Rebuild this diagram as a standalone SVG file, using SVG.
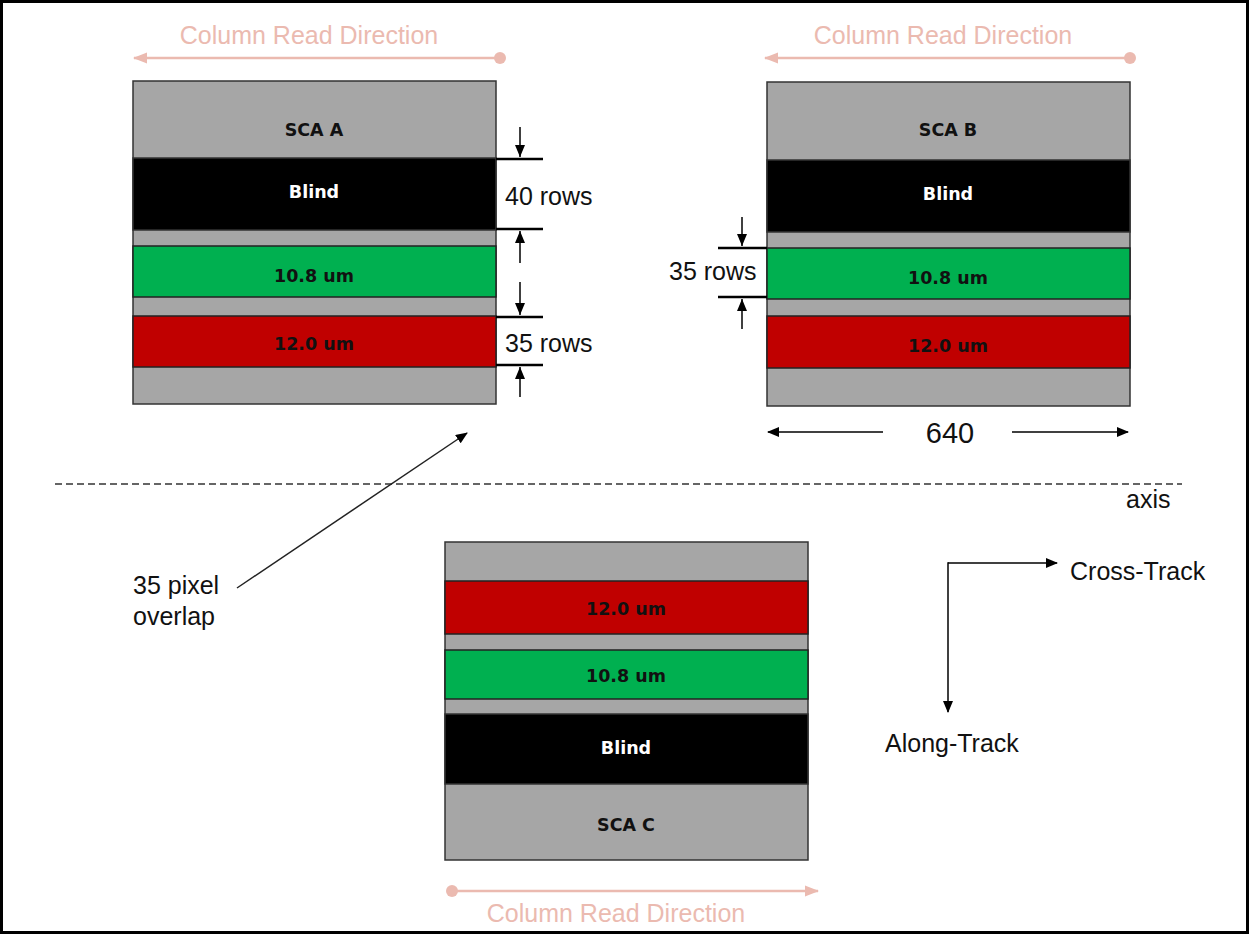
<svg xmlns="http://www.w3.org/2000/svg" width="1249" height="934" viewBox="0 0 1249 934">
<defs>
<marker id="ah" markerUnits="userSpaceOnUse" markerWidth="12" markerHeight="10" refX="11" refY="5" orient="auto"><path d="M0,0 L12,5 L0,10 z" fill="#000"/></marker>
<marker id="ahs" markerUnits="userSpaceOnUse" markerWidth="12" markerHeight="10" refX="12" refY="5" orient="auto"><path d="M0,0 L12,5 L0,10 z" fill="#000"/></marker>
<marker id="pah" markerUnits="userSpaceOnUse" markerWidth="14" markerHeight="12" refX="13" refY="6" orient="auto"><path d="M0,0.5 L14,6 L0,11.5 z" fill="#ebbab0"/></marker>
<marker id="pdot" markerUnits="userSpaceOnUse" markerWidth="14" markerHeight="14" refX="7" refY="7" orient="auto"><circle cx="7" cy="7" r="6" fill="#ebbab0"/></marker>
</defs>
<style>
.frame{fill:#fff;stroke:#000;stroke-width:3}
.gray{fill:#a6a6a6;stroke:#333;stroke-width:1.5}
.blind{fill:#000;stroke:#333;stroke-width:1.5}
.green{fill:#00b050;stroke:#222;stroke-width:1.5}
.red{fill:#c00000;stroke:#222;stroke-width:1.5}
.bl{font-family:"DejaVu Sans",Verdana,sans-serif;font-weight:bold;font-size:17.5px;text-anchor:middle;fill:#111}
.wl{font-family:"DejaVu Sans",Verdana,sans-serif;font-weight:bold;font-size:17.5px;text-anchor:middle;fill:#fff}
.lbl{font-family:"Liberation Sans",Arial,sans-serif;font-size:25px;fill:#111}
.big{font-family:"Liberation Sans",Arial,sans-serif;font-size:29px;fill:#111;text-anchor:middle}
.pink{font-family:"Liberation Sans",Arial,sans-serif;font-size:25px;fill:#ebbab0;text-anchor:middle}
.pl{stroke:#ebbab0;stroke-width:2.5;fill:none}
.dim{stroke:#000;stroke-width:2.5;fill:none}
.arr{stroke:#000;stroke-width:1.5;fill:none}
</style>
<rect class="frame" x="1.5" y="1.5" width="1246" height="931"/>

<g id="scaA">
<rect class="gray" x="133" y="81" width="363" height="323"/>
<rect class="blind" x="133" y="158" width="363" height="72"/>
<rect class="green" x="133" y="246" width="363" height="51"/>
<rect class="red" x="133" y="316" width="363" height="51"/>
<text class="bl" x="314" y="136">SCA A</text>
<text class="wl" x="314" y="198">Blind</text>
<text class="bl" x="314" y="282">10.8 um</text>
<text class="bl" x="314" y="350">12.0 um</text>
</g>

<g id="scaB">
<rect class="gray" x="767" y="82" width="363" height="324"/>
<rect class="blind" x="767" y="160" width="363" height="72"/>
<rect class="green" x="767" y="248" width="363" height="51"/>
<rect class="red" x="767" y="316" width="363" height="52"/>
<text class="bl" x="948" y="136">SCA B</text>
<text class="wl" x="948" y="200">Blind</text>
<text class="bl" x="948" y="284">10.8 um</text>
<text class="bl" x="948" y="352">12.0 um</text>
</g>

<g id="scaC">
<rect class="gray" x="445" y="542" width="363" height="318"/>
<rect class="red" x="445" y="581" width="363" height="53"/>
<rect class="green" x="445" y="650" width="363" height="49"/>
<rect class="blind" x="445" y="714" width="363" height="70"/>
<text class="bl" x="626" y="615">12.0 um</text>
<text class="bl" x="626" y="682">10.8 um</text>
<text class="wl" x="626" y="754">Blind</text>
<text class="bl" x="626" y="831">SCA C</text>
</g>

<g id="readDirections">
<line class="pl" x1="500" y1="58" x2="134" y2="58" marker-start="url(#pdot)" marker-end="url(#pah)"/>
<text class="pink" x="309" y="44">Column Read Direction</text>
<line class="pl" x1="1130" y1="58" x2="765" y2="58" marker-start="url(#pdot)" marker-end="url(#pah)"/>
<text class="pink" x="943" y="44">Column Read Direction</text>
<line class="pl" x1="452" y1="891" x2="818" y2="891" marker-start="url(#pdot)" marker-end="url(#pah)"/>
<text class="pink" x="616" y="922">Column Read Direction</text>
</g>

<g id="connectors">
<line class="dim" x1="496" y1="159" x2="543" y2="159"/>
<line class="arr" x1="520" y1="127" x2="520" y2="157" marker-end="url(#ahs)"/>
<line class="dim" x1="496" y1="229" x2="543" y2="229"/>
<line class="arr" x1="520" y1="263" x2="520" y2="231" marker-end="url(#ahs)"/>
<line class="dim" x1="496" y1="317" x2="543" y2="317"/>
<line class="arr" x1="520" y1="282" x2="520" y2="315" marker-end="url(#ahs)"/>
<line class="dim" x1="496" y1="365" x2="543" y2="365"/>
<line class="arr" x1="520" y1="397" x2="520" y2="367" marker-end="url(#ahs)"/>

<line class="dim" x1="718" y1="248" x2="767" y2="248"/>
<line class="arr" x1="742" y1="217" x2="742" y2="246" marker-end="url(#ahs)"/>
<line class="dim" x1="718" y1="297" x2="767" y2="297"/>
<line class="arr" x1="742" y1="329" x2="742" y2="299" marker-end="url(#ahs)"/>

<line class="arr" x1="883" y1="432" x2="768" y2="432" marker-end="url(#ah)"/>
<line class="arr" x1="1012" y1="432" x2="1128" y2="432" marker-end="url(#ah)"/>

<line x1="55" y1="484" x2="1182" y2="484" stroke="#333" stroke-width="1.5" stroke-dasharray="7 4"/>

<line x1="237" y1="588" x2="467" y2="433" stroke="#222" stroke-width="1.5" marker-end="url(#ah)"/>

<line class="arr" x1="948" y1="563" x2="1057" y2="563" marker-end="url(#ah)"/>
<line class="arr" x1="948" y1="562.25" x2="948" y2="712" marker-end="url(#ah)"/>
</g>

<g id="labels">
<text class="lbl" x="505" y="205">40 rows</text>
<text class="lbl" x="505" y="352">35 rows</text>
<text class="lbl" x="669" y="280">35 rows</text>
<text class="big" x="950" y="443">640</text>
<text class="lbl" x="1126" y="508">axis</text>
<text class="lbl" x="133" y="594">35 pixel</text>
<text class="lbl" x="133" y="625">overlap</text>
<text class="lbl" x="1070" y="580">Cross-Track</text>
<text class="lbl" x="885" y="752">Along-Track</text>
</g>
</svg>
